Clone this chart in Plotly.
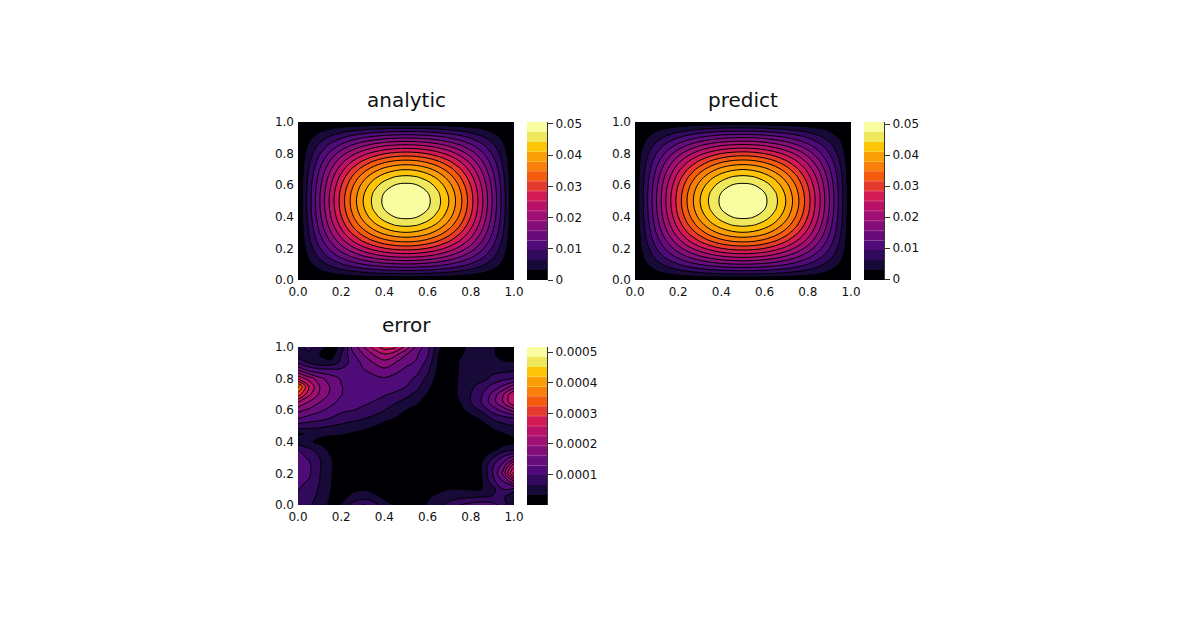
import plotly.graph_objects as go

W, H = 1200, 630
grid = [i * 0.05 for i in range(21)]
ticks_unit = [0, 0.2, 0.4, 0.6, 0.8, 1.0]
tick_text_unit = ["0.0", "0.2", "0.4", "0.6", "0.8", "1.0"]

# Sixteen filled bands, dark to light
band_colors = ["#000004", "#170a38", "#320a5c", "#4f0c78", "#680c7c", "#830e7a", "#9f0f74", "#ba1268",
               "#d31a54", "#e63a2f", "#f45b0d", "#f97e0a", "#fb9f07", "#fdc408", "#f0e85c", "#fafca0"]

# analytic solution, units of 1e-5; rows run from y=0 to y=1
analytic_e5 = [
    [0] * 21,
    [0, 124, 245, 360, 466, 560, 641, 706, 754, 783, 792, 783, 754, 706, 641, 560, 466, 360, 245, 124, 0],
    [0, 245, 484, 711, 920, 1107, 1266, 1395, 1489, 1546, 1565, 1546, 1489, 1395, 1266, 1107, 920, 711, 484, 245, 0],
    [0, 360, 711, 1044, 1352, 1626, 1861, 2049, 2187, 2272, 2300, 2272, 2187, 2049, 1861, 1626, 1352, 1044, 711, 360, 0],
    [0, 466, 920, 1352, 1750, 2106, 2409, 2653, 2832, 2941, 2978, 2941, 2832, 2653, 2409, 2106, 1750, 1352, 920, 466, 0],
    [0, 560, 1107, 1626, 2106, 2533, 2898, 3192, 3407, 3538, 3582, 3538, 3407, 3192, 2898, 2533, 2106, 1626, 1107, 560, 0],
    [0, 641, 1266, 1861, 2409, 2898, 3316, 3652, 3898, 4048, 4098, 4048, 3898, 3652, 3316, 2898, 2409, 1861, 1266, 641, 0],
    [0, 706, 1395, 2049, 2653, 3192, 3652, 4022, 4293, 4458, 4514, 4458, 4293, 4022, 3652, 3192, 2653, 2049, 1395, 706, 0],
    [0, 754, 1489, 2187, 2832, 3407, 3898, 4293, 4582, 4759, 4818, 4759, 4582, 4293, 3898, 3407, 2832, 2187, 1489, 754, 0],
    [0, 783, 1546, 2272, 2941, 3538, 4048, 4458, 4759, 4942, 5004, 4942, 4759, 4458, 4048, 3538, 2941, 2272, 1546, 783, 0],
    [0, 792, 1565, 2300, 2978, 3582, 4098, 4514, 4818, 5004, 5066, 5004, 4818, 4514, 4098, 3582, 2978, 2300, 1565, 792, 0],
    [0, 783, 1546, 2272, 2941, 3538, 4048, 4458, 4759, 4942, 5004, 4942, 4759, 4458, 4048, 3538, 2941, 2272, 1546, 783, 0],
    [0, 754, 1489, 2187, 2832, 3407, 3898, 4293, 4582, 4759, 4818, 4759, 4582, 4293, 3898, 3407, 2832, 2187, 1489, 754, 0],
    [0, 706, 1395, 2049, 2653, 3192, 3652, 4022, 4293, 4458, 4514, 4458, 4293, 4022, 3652, 3192, 2653, 2049, 1395, 706, 0],
    [0, 641, 1266, 1861, 2409, 2898, 3316, 3652, 3898, 4048, 4098, 4048, 3898, 3652, 3316, 2898, 2409, 1861, 1266, 641, 0],
    [0, 560, 1107, 1626, 2106, 2533, 2898, 3192, 3407, 3538, 3582, 3538, 3407, 3192, 2898, 2533, 2106, 1626, 1107, 560, 0],
    [0, 466, 920, 1352, 1750, 2106, 2409, 2653, 2832, 2941, 2978, 2941, 2832, 2653, 2409, 2106, 1750, 1352, 920, 466, 0],
    [0, 360, 711, 1044, 1352, 1626, 1861, 2049, 2187, 2272, 2300, 2272, 2187, 2049, 1861, 1626, 1352, 1044, 711, 360, 0],
    [0, 245, 484, 711, 920, 1107, 1266, 1395, 1489, 1546, 1565, 1546, 1489, 1395, 1266, 1107, 920, 711, 484, 245, 0],
    [0, 124, 245, 360, 466, 560, 641, 706, 754, 783, 792, 783, 754, 706, 641, 560, 466, 360, 245, 124, 0],
    [0] * 21,
]

# absolute error, in contour intervals of the error panel; rows run from y=1 down to y=0
error_bands = [
    [1.6, 2.3, 1.4, 0.6, 1.2, 4.2, 5.8, 7.4, 8.5, 8.2, 6.6, 4.7, 3.4, 1.2, 0.4, 0.6, 1.4, 1.9, 1.3, 0.4, 0.3],
    [1.4, 1.8, 1.0, 0.4, 2.0, 3.7, 4.9, 6.0, 6.8, 6.2, 5.0, 4.1, 3.1, 1.0, 0.4, 0.9, 1.3, 1.5, 1.2, 0.5, 0.5],
    [2.8, 2.0, 1.4, 1.4, 2.2, 3.4, 4.2, 5.0, 5.6, 5.0, 4.2, 3.9, 2.6, 0.9, 0.4, 1.1, 1.3, 1.3, 1.3, 1.2, 1.1],
    [5.2, 3.9, 3.5, 3.4, 3.3, 3.6, 3.9, 4.2, 4.7, 4.2, 3.8, 3.3, 2.2, 0.7, 0.4, 1.1, 1.2, 1.3, 1.8, 1.8, 1.9],
    [7.8, 6.6, 5.3, 4.5, 3.9, 3.7, 3.7, 3.8, 3.9, 3.7, 3.3, 2.8, 1.7, 0.6, 0.4, 1.2, 1.4, 1.7, 2.2, 2.7, 3.0],
    [11.3, 8.0, 6.0, 4.9, 4.05, 3.6, 3.4, 3.5, 3.6, 3.4, 3.0, 2.3, 1.3, 0.4, 0.4, 1.2, 1.8, 2.4, 3.3, 4.2, 5.5],
    [9.6, 7.3, 5.8, 4.8, 4.05, 3.5, 3.4, 3.3, 3.1, 2.8, 2.3, 1.7, 0.95, 0.2, 0.5, 1.2, 2.0, 2.9, 4.3, 5.9, 8.0],
    [7.0, 5.9, 5.0, 4.3, 3.7, 3.3, 3.2, 2.95, 2.6, 2.1, 1.6, 1.1, 0.6, 0.1, 0.3, 1.0, 2.0, 3.1, 4.5, 6.0, 8.0],
    [5.3, 4.8, 4.2, 3.7, 3.2, 3.05, 2.8, 2.4, 2.0, 1.5, 1.0, 0.8, 0.4, 0.1, 0.1, 0.7, 1.4, 2.2, 3.4, 4.4, 5.5],
    [4.1, 3.6, 3.4, 3.0, 2.6, 2.3, 2.1, 1.8, 1.3, 1.0, 0.6, 0.5, 0.2, 0.05, 0.05, 0.3, 0.7, 1.2, 2.2, 2.6, 3.0],
    [2.5, 2.4, 2.2, 2.0, 1.8, 1.6, 1.4, 1.05, 0.7, 0.6, 0.3, 0.3, 0.1, 0.05, 0.05, 0.1, 0.3, 0.6, 1.2, 1.7, 2.0],
    [0.9, 1.1, 1.3, 1.2, 1.1, 0.9, 0.6, 0.5, 0.3, 0.2, 0.1, 0.1, 0.05, 0.05, 0.05, 0.05, 0.1, 0.2, 0.6, 0.9, 1.3],
    [1.4, 1.2, 0.7, 0.4, 0.4, 0.3, 0.2, 0.15, 0.1, 0.05, 0.05, 0.05, 0.05, 0.05, 0.05, 0.05, 0.05, 0.1, 0.3, 0.5, 0.7],
    [3.05, 2.2, 1.6, 0.7, 0.2, 0.1, 0.05, 0.05, 0.05, 0.05, 0.05, 0.05, 0.05, 0.05, 0.05, 0.05, 0.1, 0.2, 0.7, 1.5, 1.9],
    [3.3, 2.9, 2.0, 1.1, 0.3, 0.1, 0.05, 0.05, 0.05, 0.05, 0.05, 0.05, 0.05, 0.05, 0.05, 0.05, 0.15, 0.7, 1.9, 3.2, 4.5],
    [3.6, 3.2, 2.1, 1.2, 0.3, 0.1, 0.05, 0.05, 0.05, 0.05, 0.05, 0.05, 0.05, 0.05, 0.05, 0.05, 0.2, 1.05, 2.8, 4.4, 7.6],
    [3.6, 3.2, 2.05, 1.15, 0.3, 0.1, 0.05, 0.05, 0.05, 0.05, 0.05, 0.05, 0.05, 0.05, 0.05, 0.05, 0.2, 1.0, 2.9, 5.3, 9.4],
    [3.3, 2.9, 2.0, 1.1, 0.3, 0.1, 0.05, 0.05, 0.05, 0.05, 0.05, 0.05, 0.05, 0.05, 0.05, 0.1, 0.2, 0.9, 2.6, 4.0, 6.0],
    [3.05, 2.5, 1.9, 1.05, 0.3, 0.7, 0.9, 0.7, 0.3, 0.1, 0.1, 0.2, 0.5, 0.8, 1.0, 1.0, 0.9, 1.0, 1.6, 3.0, 2.6],
    [2.7, 2.3, 1.8, 0.95, 0.6, 1.3, 1.6, 1.3, 0.8, 0.4, 0.2, 0.4, 0.9, 1.2, 1.5, 1.8, 1.9, 2.0, 2.1, 2.2, 1.0],
    [2.4, 2.1, 1.7, 0.7, 1.1, 2.3, 3.1, 2.5, 1.4, 0.9, 0.4, 0.5, 1.1, 1.7, 2.4, 3.0, 3.4, 3.6, 3.4, 2.5, 1.0],
]

analytic_top = 0.0506
predict_bottom, predict_top = -0.0003, 0.0507
error_top = 0.000517

analytic_ticks = [0, 0.01, 0.02, 0.03, 0.04, 0.05]
analytic_tick_text = ["0", "0.01", "0.02", "0.03", "0.04", "0.05"]
error_ticks = [0.0001, 0.0002, 0.0003, 0.0004, 0.0005]
error_tick_text = ["0.0001", "0.0002", "0.0003", "0.0004", "0.0005"]

error_step = error_top / 16
analytic = [[v * 1e-5 for v in row] for row in analytic_e5]
error = [[v * error_step for v in row] for row in reversed(error_bands)]
# predict is the analytic field plus its error
predict = [[a + e for a, e in zip(ra, re)] for ra, re in zip(analytic, error)]

stepped = []
for k, c in enumerate(band_colors):
    stepped += [[k / 16, c], [(k + 1) / 16, c]]

fig = go.Figure()
axis_font = dict(family="DejaVu Sans", size=12, color="#111111")
layout_axes = {}


def add_panel(n, title, z, bottom, top, tick_vals, tick_text, left, cbar_left, y_top, y_bottom):
    step = (top - bottom) / 16
    xa, ya = f"x{2 * n - 1}", f"y{2 * n - 1}"
    xb, yb = f"x{2 * n}", f"y{2 * n}"
    fig.add_trace(go.Contour(
        x=grid, y=grid, z=z, xaxis=xa, yaxis=ya,
        colorscale=stepped, zmin=bottom, zmax=top, autocontour=False,
        contours=dict(start=bottom + step, end=top - step * 0.5, size=step, coloring="fill"),
        line=dict(color="black", width=1, smoothing=1),
        showscale=False, hoverinfo="skip",
    ))
    # colour bar: one cell per contour band, with faint rules between the bands
    edges = [bottom + step * k for k in range(17)]
    fig.add_trace(go.Heatmap(
        x=[0, 1], y=edges, z=[[k + 0.5] for k in range(16)], xaxis=xb, yaxis=yb,
        colorscale=stepped, zmin=0, zmax=16, showscale=False, hoverinfo="skip",
    ))
    rule_x, rule_y = [], []
    for e in edges[4:14]:
        rule_x += [0, 1, None]
        rule_y += [e, e, None]
    fig.add_trace(go.Scatter(
        x=rule_x, y=rule_y, xaxis=xb, yaxis=yb, mode="lines",
        line=dict(color="rgba(255,255,255,0.28)", width=0.8), hoverinfo="skip",
    ))
    dom_y = [1 - y_bottom / H, 1 - y_top / H]
    layout_axes[xa.replace("x", "xaxis")] = dict(
        domain=[left / W, (left + 216) / W], range=[0, 1], anchor=ya,
        tickvals=ticks_unit, ticktext=tick_text_unit, ticks="", showgrid=False, zeroline=False,
        showline=False, tickfont=axis_font, automargin=False, ticklabelstandoff=3,
    )
    layout_axes[ya.replace("y", "yaxis")] = dict(
        domain=dom_y, range=[0, 1], anchor=xa,
        tickvals=ticks_unit, ticktext=tick_text_unit, ticks="", showgrid=False, zeroline=False,
        showline=False, tickfont=axis_font, automargin=False, ticklabelstandoff=3,
    )
    layout_axes[xb.replace("x", "xaxis")] = dict(
        domain=[cbar_left / W, (cbar_left + 20) / W], range=[0, 1], anchor=yb, visible=False,
    )
    layout_axes[yb.replace("y", "yaxis")] = dict(
        domain=dom_y, range=[bottom, top], anchor=xb, side="right",
        tickvals=tick_vals, ticktext=tick_text, ticks="outside", ticklen=5, tickwidth=1, tickcolor="#333333",
        showgrid=False, zeroline=False, showline=True, linecolor="#333333", linewidth=1, tickfont=axis_font,
    )
    fig.add_annotation(
        text=title, xref="paper", yref="paper", x=(left + 108) / W, y=1 - (y_top - 22) / H,
        xanchor="center", yanchor="middle", showarrow=False,
        font=dict(family="DejaVu Sans", size=20, color="#111111"),
    )


add_panel(1, "analytic", analytic, 0, analytic_top, analytic_ticks, analytic_tick_text, 298, 527, 122, 280)
add_panel(2, "predict", predict, predict_bottom, predict_top, analytic_ticks, analytic_tick_text, 635, 864, 122, 280)
add_panel(3, "error", error, 0, error_top, error_ticks, error_tick_text, 298, 527, 347, 505)

fig.update_layout(
    width=W, height=H, margin=dict(l=0, r=0, t=0, b=0, pad=0, autoexpand=False),
    paper_bgcolor="white", plot_bgcolor="black", showlegend=False,
    **layout_axes,
)
fig.write_html("out.html")
